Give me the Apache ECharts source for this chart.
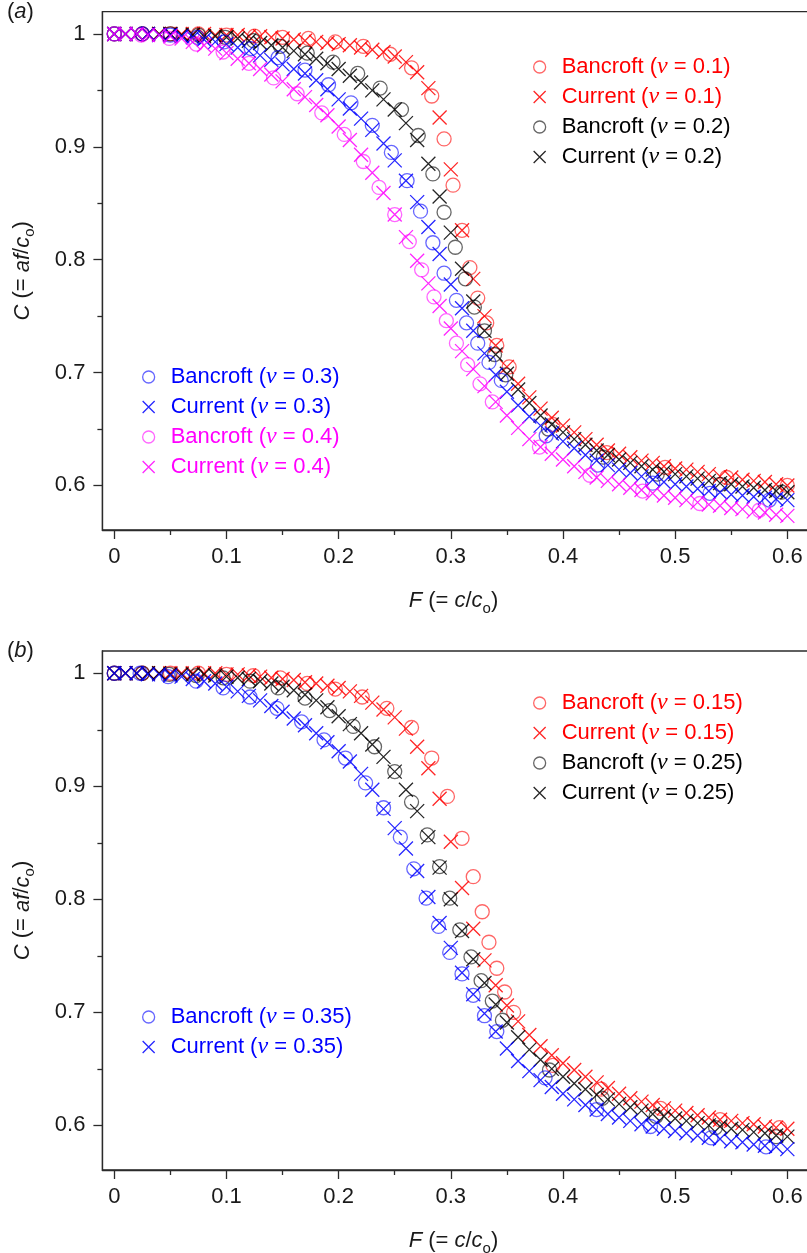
<!DOCTYPE html>
<html>
<head>
<meta charset="utf-8">
<script src="https://cdn.jsdelivr.net/npm/echarts@6/dist/echarts.min.js"></script>
<style>
  html, body { margin: 0; padding: 0; background: #ffffff; }
  #chart { width: 807px; height: 1253px; }
</style>
</head>
<body>
<div id="chart"></div>
<script>
// ---- Tick labels ----
const X_TICKS = [0, 0.1, 0.2, 0.3, 0.4, 0.5, 0.6];
const X_MINOR = [0.05, 0.15, 0.25, 0.35, 0.45, 0.55];
const Y_TICKS = [0.6, 0.7, 0.8, 0.9, 1];
const Y_MINOR = [0.65, 0.75, 0.85, 0.95];

// ---- F values of the "Current" curves ----
const F_GRID = [0, 0.01, 0.02, 0.03, 0.04, 0.05, 0.06, 0.07, 0.08, 0.09,
  0.1, 0.11, 0.12, 0.13, 0.14, 0.15, 0.16, 0.17, 0.18, 0.19,
  0.2, 0.21, 0.22, 0.23, 0.24, 0.25, 0.26, 0.27, 0.28, 0.29,
  0.3, 0.31, 0.32, 0.33, 0.34, 0.35, 0.36, 0.37, 0.38, 0.39,
  0.4, 0.41, 0.42, 0.43, 0.44, 0.45, 0.46, 0.47, 0.48, 0.49,
  0.5, 0.51, 0.52, 0.53, 0.54, 0.55, 0.56, 0.57, 0.58, 0.59, 0.6];

// ---- Panel (a): Current ----
const CUR_A_01 = [1.000, 1.000, 1.000, 1.000, 1.000, 1.000, 1.000, 1.000, 1.000, 0.999,
  0.999, 0.999, 0.998, 0.998, 0.997, 0.996, 0.995, 0.994, 0.993, 0.992,
  0.991, 0.990, 0.988, 0.986, 0.984, 0.980, 0.975, 0.966, 0.952, 0.926,
  0.880, 0.826, 0.783, 0.750, 0.724, 0.705, 0.690, 0.678, 0.668, 0.660,
  0.653, 0.647, 0.641, 0.636, 0.631, 0.628, 0.625, 0.622, 0.620, 0.617,
  0.615, 0.614, 0.612, 0.610, 0.608, 0.607, 0.605, 0.604, 0.603, 0.601, 0.600];
const CUR_A_02 = [1.000, 1.000, 1.000, 1.000, 1.000, 1.000, 0.999, 0.999, 0.998, 0.998,
  0.997, 0.996, 0.994, 0.992, 0.990, 0.988, 0.985, 0.982, 0.978, 0.974,
  0.969, 0.963, 0.957, 0.950, 0.942, 0.933, 0.921, 0.906, 0.885, 0.856,
  0.824, 0.792, 0.763, 0.737, 0.716, 0.699, 0.685, 0.673, 0.662, 0.654,
  0.647, 0.641, 0.636, 0.631, 0.627, 0.623, 0.620, 0.617, 0.614, 0.612,
  0.610, 0.608, 0.606, 0.604, 0.602, 0.601, 0.599, 0.598, 0.596, 0.595, 0.594];
const CUR_A_03 = [1.000, 1.000, 1.000, 1.000, 0.999, 0.999, 0.998, 0.997, 0.995, 0.993,
  0.991, 0.988, 0.985, 0.981, 0.977, 0.973, 0.969, 0.965, 0.959, 0.951,
  0.942, 0.934, 0.925, 0.915, 0.903, 0.888, 0.870, 0.851, 0.829, 0.805,
  0.778, 0.757, 0.737, 0.717, 0.698, 0.683, 0.671, 0.661, 0.653, 0.646,
  0.639, 0.633, 0.627, 0.622, 0.618, 0.614, 0.611, 0.608, 0.605, 0.603,
  0.601, 0.599, 0.597, 0.595, 0.594, 0.592, 0.591, 0.590, 0.589, 0.588, 0.587];
const CUR_A_04 = [1.000, 1.000, 1.000, 0.999, 0.999, 0.998, 0.996, 0.993, 0.990, 0.987,
  0.983, 0.978, 0.974, 0.969, 0.964, 0.958, 0.951, 0.944, 0.937, 0.928,
  0.918, 0.906, 0.893, 0.877, 0.859, 0.840, 0.820, 0.799, 0.779, 0.759,
  0.739, 0.719, 0.703, 0.688, 0.674, 0.662, 0.651, 0.641, 0.634, 0.628,
  0.623, 0.617, 0.612, 0.607, 0.604, 0.601, 0.598, 0.596, 0.593, 0.591,
  0.589, 0.587, 0.585, 0.583, 0.582, 0.580, 0.579, 0.577, 0.576, 0.574, 0.573];

// ---- Panel (a): Bancroft ----
const BAN_A_01_F = [0, 0.025, 0.05, 0.075, 0.1, 0.125, 0.15, 0.173, 0.197, 0.222, 0.246, 0.265, 0.283,
  0.294, 0.302, 0.31, 0.317, 0.324, 0.332, 0.341, 0.352, 0.391, 0.439, 0.491, 0.546, 0.6];
const BAN_A_01_C = [1, 1, 1, 1, 0.999, 0.998, 0.997, 0.996, 0.993, 0.989, 0.982, 0.970, 0.945,
  0.907, 0.866, 0.826, 0.793, 0.766, 0.744, 0.724, 0.705, 0.654, 0.629, 0.616, 0.607, 0.600];
const BAN_A_02_F = [0, 0.025, 0.05, 0.075, 0.099, 0.124, 0.148, 0.172, 0.195, 0.217, 0.237, 0.256, 0.271,
  0.284, 0.294, 0.304, 0.313, 0.321, 0.33, 0.339, 0.349, 0.387, 0.436, 0.484, 0.54, 0.595];
const BAN_A_02_C = [1, 1, 1, 0.999, 0.997, 0.994, 0.989, 0.983, 0.975, 0.965, 0.952, 0.933, 0.910,
  0.876, 0.842, 0.811, 0.783, 0.758, 0.737, 0.716, 0.698, 0.650, 0.625, 0.610, 0.601, 0.594];
const BAN_A_03_F = [0, 0.025, 0.05, 0.074, 0.098, 0.122, 0.146, 0.17, 0.191, 0.211, 0.23, 0.247, 0.261,
  0.273, 0.284, 0.294, 0.305, 0.314, 0.324, 0.334, 0.345, 0.385, 0.431, 0.48, 0.531, 0.584];
const BAN_A_03_C = [1, 1, 0.999, 0.997, 0.993, 0.987, 0.979, 0.968, 0.955, 0.939, 0.919, 0.895, 0.870,
  0.843, 0.815, 0.788, 0.764, 0.744, 0.726, 0.709, 0.693, 0.644, 0.618, 0.602, 0.593, 0.587];
const BAN_A_04_F = [0, 0.024, 0.049, 0.073, 0.097, 0.12, 0.142, 0.163, 0.185, 0.205, 0.222, 0.236, 0.25,
  0.263, 0.274, 0.285, 0.296, 0.305, 0.315, 0.326, 0.337, 0.379, 0.424, 0.471, 0.522, 0.575];
const BAN_A_04_C = [1, 0.999, 0.996, 0.991, 0.984, 0.974, 0.961, 0.947, 0.930, 0.911, 0.887, 0.864, 0.840,
  0.816, 0.791, 0.767, 0.746, 0.726, 0.707, 0.690, 0.674, 0.634, 0.609, 0.595, 0.584, 0.578];

// ---- Panel (b): Current ----
const CUR_B_015 = [1.000, 1.000, 1.000, 1.000, 1.000, 1.000, 1.000, 1.000, 1.000, 1.000,
  0.999, 0.999, 0.998, 0.997, 0.996, 0.995, 0.994, 0.992, 0.991, 0.989,
  0.987, 0.984, 0.980, 0.974, 0.968, 0.961, 0.951, 0.935, 0.916, 0.889,
  0.851, 0.810, 0.774, 0.746, 0.724, 0.706, 0.692, 0.680, 0.670, 0.662,
  0.655, 0.649, 0.643, 0.638, 0.633, 0.628, 0.624, 0.621, 0.618, 0.615,
  0.613, 0.611, 0.609, 0.607, 0.605, 0.604, 0.602, 0.601, 0.599, 0.598, 0.597];
const CUR_B_025 = [1.000, 1.000, 1.000, 1.000, 1.000, 0.999, 0.999, 0.999, 0.999, 0.998,
  0.997, 0.996, 0.995, 0.993, 0.991, 0.988, 0.985, 0.981, 0.976, 0.970,
  0.962, 0.955, 0.947, 0.937, 0.926, 0.913, 0.897, 0.878, 0.855, 0.828,
  0.800, 0.772, 0.747, 0.726, 0.707, 0.691, 0.678, 0.667, 0.658, 0.650,
  0.643, 0.637, 0.632, 0.627, 0.623, 0.619, 0.616, 0.613, 0.610, 0.608,
  0.606, 0.604, 0.602, 0.600, 0.599, 0.597, 0.596, 0.594, 0.593, 0.591, 0.590];
const CUR_B_035 = [1.000, 1.000, 1.000, 0.999, 0.999, 0.998, 0.997, 0.995, 0.993, 0.991,
  0.988, 0.984, 0.980, 0.976, 0.971, 0.966, 0.960, 0.954, 0.947, 0.939,
  0.931, 0.922, 0.911, 0.897, 0.880, 0.863, 0.845, 0.825, 0.802, 0.779,
  0.757, 0.735, 0.716, 0.699, 0.683, 0.668, 0.657, 0.648, 0.640, 0.634,
  0.628, 0.623, 0.618, 0.614, 0.610, 0.607, 0.604, 0.601, 0.599, 0.597,
  0.595, 0.593, 0.591, 0.589, 0.588, 0.586, 0.585, 0.583, 0.582, 0.581, 0.579];

// ---- Panel (b): Bancroft ----
const BAN_B_015_F = [0, 0.025, 0.05, 0.075, 0.1, 0.124, 0.148, 0.172, 0.197, 0.221, 0.243, 0.265, 0.283,
  0.297, 0.31, 0.32, 0.328, 0.334, 0.341, 0.348, 0.356, 0.391, 0.434, 0.487, 0.54, 0.593];
const BAN_B_015_C = [1, 1, 1, 1, 0.999, 0.998, 0.996, 0.991, 0.986, 0.979, 0.969, 0.952, 0.925,
  0.891, 0.854, 0.820, 0.789, 0.762, 0.739, 0.718, 0.700, 0.653, 0.632, 0.615, 0.605, 0.598];
const BAN_B_025_F = [0, 0.025, 0.049, 0.073, 0.097, 0.121, 0.146, 0.17, 0.192, 0.213, 0.232, 0.25, 0.265,
  0.279, 0.29, 0.299, 0.308, 0.318, 0.327, 0.337, 0.346, 0.388, 0.435, 0.483, 0.536, 0.59];
const BAN_B_025_C = [1, 1, 0.999, 0.998, 0.996, 0.993, 0.987, 0.978, 0.967, 0.953, 0.935, 0.913, 0.886,
  0.857, 0.829, 0.801, 0.773, 0.749, 0.728, 0.710, 0.693, 0.649, 0.624, 0.608, 0.598, 0.590];
const BAN_B_035_F = [0, 0.023, 0.048, 0.073, 0.097, 0.121, 0.145, 0.167, 0.187, 0.206, 0.224, 0.24, 0.255,
  0.267, 0.278, 0.289, 0.299, 0.31, 0.32, 0.33, 0.341, 0.384, 0.43, 0.478, 0.532, 0.581];
const BAN_B_035_C = [1, 1, 0.997, 0.993, 0.987, 0.979, 0.969, 0.957, 0.941, 0.925, 0.903, 0.881, 0.855,
  0.827, 0.801, 0.776, 0.753, 0.734, 0.715, 0.697, 0.683, 0.642, 0.614, 0.599, 0.589, 0.581];

// ---- Styling ----
const RED = '#ff0000', BLACK = '#000000', BLUE = '#0000ff', MAGENTA = '#ff00ff';
const AXIS_COLOR = '#2b2b2b', TEXT_COLOR = '#1a1a1a';
const FONT = 'Liberation Sans, Arial, sans-serif';
const SERIF = 'Liberation Serif, Times New Roman, serif';
const CROSS = 'path://M0,0L10,10M10,0L0,10';
const XMIN = -0.0106, XMAX = 0.626, YMIN = 0.5605, YMAX = 1.0197;

// The plot frame runs past the right edge of the page, so its right side is not seen.
const GRIDS = [
  { left: 102.4, top: 11.7, width: 714.1, height: 518.3 },
  { left: 102.4, top: 651, width: 714.1, height: 519 }
];

const nameRich = {
  n: { fontFamily: FONT, fontSize: 22, color: TEXT_COLOR, lineHeight: 30 },
  i: { fontFamily: FONT, fontSize: 22, fontStyle: 'italic', color: TEXT_COLOR, lineHeight: 30 },
  s: { fontFamily: FONT, fontSize: 15, color: TEXT_COLOR, verticalAlign: 'bottom', lineHeight: 8 }
};
const X_NAME = '{i|F}{n| (= }{i|c}{n|/}{i|c}{s|o}{n|)}';
const Y_NAME = '{i|C}{n| (= }{i|af}{n|/}{i|c}{s|o}{n|)}';
const fmtTick = v => String(Math.round(v * 100) / 100);

function xAxes(g) {
  return [
    {
      type: 'value', gridIndex: g, position: 'bottom', min: XMIN, max: XMAX,
      axisLine: { show: true, onZero: false, lineStyle: { color: AXIS_COLOR, width: 1.3 } },
      axisTick: { show: true, customValues: X_TICKS, length: 9, lineStyle: { color: AXIS_COLOR, width: 1.3 } },
      axisLabel: { show: true, customValues: X_TICKS, formatter: fmtTick, margin: 16,
        fontSize: 22, fontFamily: FONT, color: TEXT_COLOR },
      splitLine: { show: false },
      name: X_NAME, nameLocation: 'middle', nameGap: 56,
      nameTextStyle: { rich: nameRich, padding: [0, 12, 0, 0] }
    },
    {
      type: 'value', gridIndex: g, position: 'bottom', min: XMIN, max: XMAX,
      axisLine: { show: false, onZero: false },
      axisTick: { show: true, customValues: X_MINOR, length: 5, lineStyle: { color: AXIS_COLOR, width: 1.3 } },
      axisLabel: { show: false },
      splitLine: { show: false }
    }
  ];
}
function yAxes(g) {
  return [
    {
      type: 'value', gridIndex: g, position: 'left', min: YMIN, max: YMAX,
      axisLine: { show: true, onZero: false, lineStyle: { color: AXIS_COLOR, width: 1.3 } },
      axisTick: { show: true, customValues: Y_TICKS, length: 9, lineStyle: { color: AXIS_COLOR, width: 1.3 } },
      axisLabel: { show: true, customValues: Y_TICKS, formatter: fmtTick, margin: 17,
        fontSize: 22, fontFamily: FONT, color: TEXT_COLOR },
      splitLine: { show: false },
      name: Y_NAME, nameLocation: 'middle', nameRotate: 90, nameGap: 65,
      nameTextStyle: { rich: nameRich }
    },
    {
      type: 'value', gridIndex: g, position: 'left', min: YMIN, max: YMAX,
      axisLine: { show: false, onZero: false },
      axisTick: { show: true, customValues: Y_MINOR, length: 5, lineStyle: { color: AXIS_COLOR, width: 1.3 } },
      axisLabel: { show: false },
      splitLine: { show: false }
    }
  ];
}

function pairs(xs, ys) { return xs.map((x, i) => [x, ys[i]]); }

function markerSeries(name, panel, xs, ys, color, isCross) {
  return {
    type: 'scatter', name: name,
    xAxisIndex: panel * 2, yAxisIndex: panel * 2,
    data: pairs(xs, ys),
    symbol: isCross ? CROSS : 'circle',
    symbolSize: 14,
    itemStyle: {
      color: 'rgba(0,0,0,0)', borderColor: color, borderWidth: 1.3,
      opacity: isCross ? 0.85 : 0.6
    },
    emphasis: { disabled: true },
    silent: true
  };
}

const SERIES_DEFS = [
  // panel, name, x values, y values, colour, cross?
  [0, 'Bancroft (ν = 0.1)', BAN_A_01_F, BAN_A_01_C, RED, false],
  [0, 'Current (ν = 0.1)', F_GRID, CUR_A_01, RED, true],
  [0, 'Bancroft (ν = 0.2)', BAN_A_02_F, BAN_A_02_C, BLACK, false],
  [0, 'Current (ν = 0.2)', F_GRID, CUR_A_02, BLACK, true],
  [0, 'Bancroft (ν = 0.3)', BAN_A_03_F, BAN_A_03_C, BLUE, false],
  [0, 'Current (ν = 0.3)', F_GRID, CUR_A_03, BLUE, true],
  [0, 'Bancroft (ν = 0.4)', BAN_A_04_F, BAN_A_04_C, MAGENTA, false],
  [0, 'Current (ν = 0.4)', F_GRID, CUR_A_04, MAGENTA, true],
  [1, 'Bancroft (ν = 0.15)', BAN_B_015_F, BAN_B_015_C, RED, false],
  [1, 'Current (ν = 0.15)', F_GRID, CUR_B_015, RED, true],
  [1, 'Bancroft (ν = 0.25)', BAN_B_025_F, BAN_B_025_C, BLACK, false],
  [1, 'Current (ν = 0.25)', F_GRID, CUR_B_025, BLACK, true],
  [1, 'Bancroft (ν = 0.35)', BAN_B_035_F, BAN_B_035_C, BLUE, false],
  [1, 'Current (ν = 0.35)', F_GRID, CUR_B_035, BLUE, true]
];

const series = SERIES_DEFS.map(d => markerSeries(d[1], d[0], d[2], d[3], d[4], d[5]));
const colorOf = {};
SERIES_DEFS.forEach(d => { colorOf[d[1]] = d[4]; });

const legendRich = {
  t: { fontFamily: FONT, fontSize: 22, lineHeight: 24 },
  v: { fontFamily: SERIF, fontSize: 24, fontStyle: 'italic', lineHeight: 24 }
};
function legendBlock(names, left, top) {
  return {
    orient: 'vertical', left: left, top: top, itemGap: 6,
    itemWidth: 12, itemHeight: 12, selectedMode: false,
    itemStyle: { borderWidth: 1.3 },
    data: names.map(n => ({ name: n, textStyle: { color: colorOf[n] } })),
    formatter: name => name.replace(/^(\w+) \(ν = ([\d.]+)\)$/, '{t|$1 (}{v|ν}{t| = $2)}'),
    textStyle: { fontFamily: FONT, fontSize: 22, padding: [0, 0, 0, 11], rich: legendRich }
  };
}

const panelTitle = (letter, top) => ({
  text: '({i|' + letter + '})', left: 2, top: top,
  textStyle: { fontFamily: FONT, fontSize: 22, fontWeight: 'normal', color: TEXT_COLOR,
    rich: { i: { fontFamily: FONT, fontSize: 22, fontStyle: 'italic', color: TEXT_COLOR } } }
});

const option = {
  animation: false,
  backgroundColor: '#ffffff',
  title: [panelTitle('a', -4), panelTitle('b', 635)],
  grid: GRIDS.map(g => Object.assign({ show: true, borderColor: AXIS_COLOR, borderWidth: 1.3,
    backgroundColor: 'transparent', containLabel: false, outerBoundsMode: 'none' }, g)),
  xAxis: xAxes(0).concat(xAxes(1)),
  yAxis: yAxes(0).concat(yAxes(1)),
  legend: [
    legendBlock(['Bancroft (ν = 0.1)', 'Current (ν = 0.1)', 'Bancroft (ν = 0.2)', 'Current (ν = 0.2)'], 528, 50),
    legendBlock(['Bancroft (ν = 0.3)', 'Current (ν = 0.3)', 'Bancroft (ν = 0.4)', 'Current (ν = 0.4)'], 137, 360),
    legendBlock(['Bancroft (ν = 0.15)', 'Current (ν = 0.15)', 'Bancroft (ν = 0.25)', 'Current (ν = 0.25)'], 528, 686),
    legendBlock(['Bancroft (ν = 0.35)', 'Current (ν = 0.35)'], 137, 1000)
  ],
  series: series
};

const chart = echarts.init(document.getElementById('chart'), null, { renderer: 'canvas' });
chart.setOption(option);
</script>
</body>
</html>
